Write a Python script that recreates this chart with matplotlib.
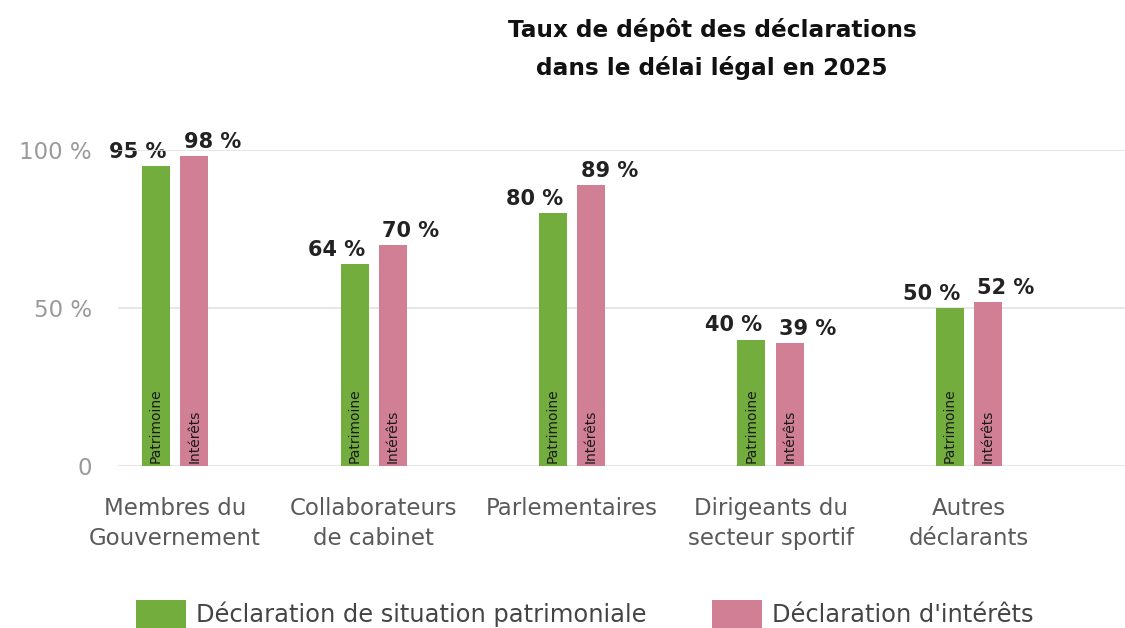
import matplotlib
matplotlib.use("Agg")
from matplotlib import pyplot as plt
from matplotlib.patches import Patch
import numpy as np

# données
categories = ["Membres du\nGouvernement", "Collaborateurs\nde cabinet", "Parlementaires",
              "Dirigeants du\nsecteur sportif", "Autres\ndéclarants"]
patrimoine = [95, 64, 80, 40, 50]
interets = [98, 70, 89, 39, 52]
yticks = [0, 50, 100]
ytick_labels = ["0", "50 %", "100 %"]

green = "#73ad3e"
pink = "#d17f94"

plt.rcParams['font.family'] = ['DejaVu Sans']

fig = plt.figure(figsize=(11.25, 6.28), dpi=100)
ax = fig.add_axes([0.105, 0.258, 0.895, 0.503])

x = np.arange(len(categories))
w = 0.141
off = 0.096
ax.bar(x - off, patrimoine, width=w, color=green, zorder=2)
ax.bar(x + off, interets, width=w, color=pink, zorder=2)

# étiquettes de valeur (fond blanc sous les barres pour masquer la grille)
for xi, v in zip(x, patrimoine):
    ax.annotate(f"{v} %", (xi - off, v), xytext=(-13, 3), textcoords="offset points",
                ha="center", va="bottom", fontsize=15, fontweight="bold", color="#222222",
                bbox=dict(facecolor="white", edgecolor="none", pad=1), zorder=1.5)
for xi, v in zip(x, interets):
    ax.annotate(f"{v} %", (xi + off, v), xytext=(13, 3), textcoords="offset points",
                ha="center", va="bottom", fontsize=15, fontweight="bold", color="#222222",
                bbox=dict(facecolor="white", edgecolor="none", pad=1), zorder=1.5)

# texte vertical dans les barres
for xi in x:
    ax.text(xi - off, 1.0, "Patrimoine", rotation=90, ha="center", va="bottom",
            fontsize=10, color="#1a1a1a", zorder=3)
    ax.text(xi + off, 1.0, "Intérêts", rotation=90, ha="center", va="bottom",
            fontsize=10, color="#1a1a1a", zorder=3)

ax.set_xlim(-0.287, 4.786)
ax.set_ylim(0, 100)
ax.set_yticks(yticks)
ax.set_yticklabels(ytick_labels, fontsize=16.5, color="#9a9a9a")
ax.set_xticks(x)
ax.set_xticklabels(categories, fontsize=16.5, color="#5a5a5a", linespacing=1.4)
ax.tick_params(axis="y", length=0, pad=19)
ax.tick_params(axis="x", length=0, pad=22)
ax.grid(axis="y", color="#e3e3e3", linewidth=1.2, zorder=0)
for s in ax.spines.values():
    s.set_visible(False)

fig.text(0.633, 0.922, "Taux de dépôt des déclarations\ndans le délai légal en 2025",
         ha="center", va="center", fontsize=16.7, fontweight="bold", color="#111111",
         linespacing=1.75)

handles = [Patch(facecolor=green, label="Déclaration de situation patrimoniale"),
           Patch(facecolor=pink, label="Déclaration d'intérêts")]
fig.legend(handles=handles, loc="center", bbox_to_anchor=(0.5196, 0.023), ncol=2,
           frameon=False, fontsize=17.4, handlelength=2.1, handleheight=1.4,
           columnspacing=2.7, handletextpad=0.4, labelcolor="#444444")

fig.savefig("out.png", dpi=100)
